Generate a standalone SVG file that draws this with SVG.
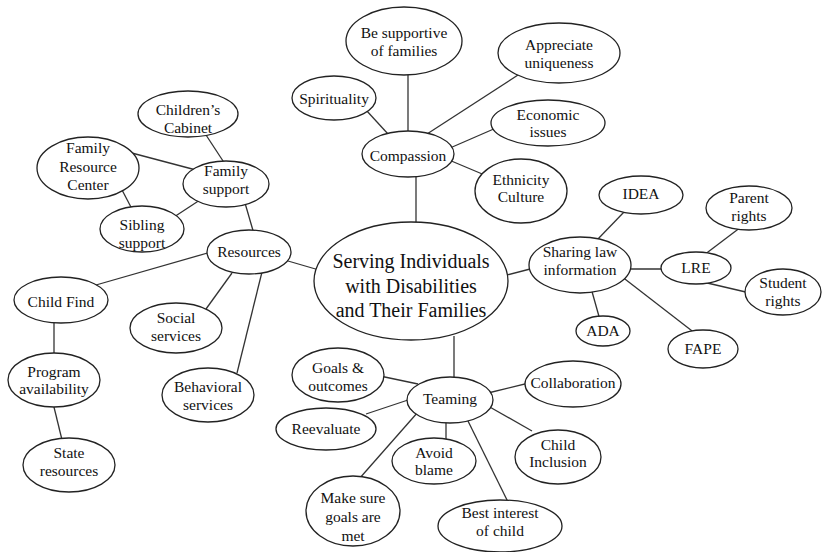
<svg xmlns="http://www.w3.org/2000/svg" width="822" height="552" viewBox="0 0 822 552">
<style>
ellipse{fill:#fff;stroke:#222;stroke-width:1.3}
text{font-size:15.5px;fill:#111;text-anchor:middle}
.big{font-size:20px}
#connectors line{stroke:#333;stroke-width:1.3}
</style>
<rect width="822" height="552" fill="#fff"/>
<g id="connectors">
<line x1="206" y1="135" x2="225" y2="164"/>
<line x1="128" y1="152" x2="196" y2="170"/>
<line x1="121" y1="188" x2="133" y2="211"/>
<line x1="174" y1="217" x2="203" y2="198"/>
<line x1="245" y1="203" x2="254" y2="234"/>
<line x1="211" y1="252" x2="96" y2="285"/>
<line x1="54" y1="320" x2="54" y2="357"/>
<line x1="53" y1="403" x2="63" y2="444"/>
<line x1="232" y1="273" x2="206" y2="309"/>
<line x1="262" y1="272" x2="237" y2="373"/>
<line x1="288" y1="261" x2="319" y2="270"/>
<line x1="366" y1="110" x2="388" y2="134"/>
<line x1="408" y1="72" x2="408" y2="134"/>
<line x1="518" y1="75" x2="427" y2="134"/>
<line x1="496" y1="128" x2="450" y2="148"/>
<line x1="487" y1="176" x2="449" y2="160"/>
<line x1="416" y1="174" x2="416" y2="226"/>
<line x1="503" y1="276" x2="534" y2="268"/>
<line x1="596" y1="241" x2="625" y2="211"/>
<line x1="627" y1="269" x2="665" y2="269"/>
<line x1="704" y1="255" x2="741" y2="227"/>
<line x1="703" y1="282" x2="750" y2="293"/>
<line x1="591" y1="288" x2="600" y2="320"/>
<line x1="621" y1="276" x2="696" y2="334"/>
<line x1="454" y1="336" x2="454" y2="380"/>
<line x1="380" y1="376" x2="418" y2="384"/>
<line x1="366" y1="414" x2="411" y2="399"/>
<line x1="359" y1="479" x2="418" y2="412"/>
<line x1="446" y1="420" x2="446" y2="441"/>
<line x1="467" y1="419" x2="509" y2="504"/>
<line x1="488" y1="406" x2="532" y2="431"/>
<line x1="488" y1="393" x2="533" y2="382"/>
</g>
<g font-family="'Liberation Serif', 'DejaVu Serif', serif">
<g id="center"><ellipse cx="411" cy="281" rx="97" ry="59"/><text class="big"><tspan x="411" y="268">Serving Individuals</tspan><tspan x="411" y="293">with Disabilities</tspan><tspan x="411" y="317">and Their Families</tspan></text></g>
<g id="compassion"><ellipse cx="408" cy="154" rx="46" ry="23"/><text x="408" y="161">Compassion</text></g>
<g id="be-supportive"><ellipse cx="404" cy="41" rx="58" ry="34"/><text><tspan x="404" y="38">Be supportive</tspan><tspan x="404" y="56">of families</tspan></text></g>
<g id="appreciate"><ellipse cx="559" cy="53" rx="61" ry="30"/><text><tspan x="559" y="50">Appreciate</tspan><tspan x="559" y="68">uniqueness</tspan></text></g>
<g id="spirituality"><ellipse cx="334" cy="98" rx="42" ry="22"/><text x="334" y="104">Spirituality</text></g>
<g id="economic"><ellipse cx="548" cy="123" rx="57" ry="23"/><text><tspan x="548" y="120">Economic</tspan><tspan x="548" y="137">issues</tspan></text></g>
<g id="ethnicity"><ellipse cx="521" cy="191" rx="46" ry="32"/><text><tspan x="521" y="185">Ethnicity</tspan><tspan x="521" y="202">Culture</tspan></text></g>
<g id="sharing"><ellipse cx="580" cy="265" rx="51" ry="28"/><text><tspan x="580" y="257">Sharing law</tspan><tspan x="580" y="275">information</tspan></text></g>
<g id="idea"><ellipse cx="641" cy="195" rx="42" ry="19"/><text x="641" y="199">IDEA</text></g>
<g id="lre"><ellipse cx="696" cy="268" rx="35" ry="16"/><text x="696" y="273">LRE</text></g>
<g id="parent-rights"><ellipse cx="749" cy="208" rx="43" ry="22"/><text><tspan x="749" y="203">Parent</tspan><tspan x="749" y="221">rights</tspan></text></g>
<g id="student-rights"><ellipse cx="783" cy="292" rx="38" ry="23"/><text><tspan x="783" y="288">Student</tspan><tspan x="783" y="306">rights</tspan></text></g>
<g id="ada"><ellipse cx="603" cy="331" rx="27" ry="15"/><text x="603" y="336">ADA</text></g>
<g id="fape"><ellipse cx="703" cy="349" rx="35" ry="19"/><text x="703" y="354">FAPE</text></g>
<g id="teaming"><ellipse cx="450" cy="400" rx="43" ry="23"/><text x="450" y="404">Teaming</text></g>
<g id="goals"><ellipse cx="338" cy="375" rx="46" ry="27"/><text><tspan x="338" y="373">Goals &amp;</tspan><tspan x="338" y="391">outcomes</tspan></text></g>
<g id="collaboration"><ellipse cx="573" cy="384" rx="48" ry="23"/><text x="573" y="388">Collaboration</text></g>
<g id="reevaluate"><ellipse cx="326" cy="429" rx="50" ry="21"/><text x="326" y="434">Reevaluate</text></g>
<g id="avoid-blame"><ellipse cx="434" cy="461" rx="42" ry="23"/><text><tspan x="434" y="458">Avoid</tspan><tspan x="434" y="475">blame</tspan></text></g>
<g id="child-inclusion"><ellipse cx="558" cy="457" rx="43" ry="27"/><text><tspan x="558" y="450">Child</tspan><tspan x="558" y="467">Inclusion</tspan></text></g>
<g id="make-sure"><ellipse cx="353" cy="511" rx="47" ry="35"/><text><tspan x="353" y="503">Make sure</tspan><tspan x="353" y="522">goals are</tspan><tspan x="353" y="541">met</tspan></text></g>
<g id="best-interest"><ellipse cx="500" cy="526" rx="62" ry="26"/><text><tspan x="500" y="518">Best interest</tspan><tspan x="500" y="536">of child</tspan></text></g>
<g id="resources"><ellipse cx="249" cy="252" rx="42" ry="22"/><text x="249" y="257">Resources</text></g>
<g id="family-support"><ellipse cx="226" cy="184" rx="43" ry="23"/><text><tspan x="226" y="176">Family</tspan><tspan x="226" y="194">support</tspan></text></g>
<g id="childrens-cabinet"><ellipse cx="188" cy="114" rx="50" ry="23"/><text><tspan x="188" y="115">Children’s</tspan><tspan x="188" y="133">Cabinet</tspan></text></g>
<g id="frc"><ellipse cx="88" cy="168" rx="51" ry="31"/><text><tspan x="88" y="153">Family</tspan><tspan x="88" y="172">Resource</tspan><tspan x="88" y="190">Center</tspan></text></g>
<g id="sibling"><ellipse cx="142" cy="229" rx="42" ry="23"/><text><tspan x="142" y="230">Sibling</tspan><tspan x="142" y="248">support</tspan></text></g>
<g id="child-find"><ellipse cx="61" cy="300" rx="47" ry="23"/><text x="61" y="307">Child Find</text></g>
<g id="social"><ellipse cx="176" cy="328" rx="46" ry="25"/><text><tspan x="176" y="323">Social</tspan><tspan x="176" y="341">services</tspan></text></g>
<g id="program"><ellipse cx="54" cy="380" rx="46" ry="27"/><text><tspan x="54" y="377">Program</tspan><tspan x="54" y="394">availability</tspan></text></g>
<g id="behavioral"><ellipse cx="208" cy="395" rx="46" ry="27"/><text><tspan x="208" y="392">Behavioral</tspan><tspan x="208" y="410">services</tspan></text></g>
<g id="state"><ellipse cx="69" cy="465" rx="46" ry="27"/><text><tspan x="69" y="458">State</tspan><tspan x="69" y="476">resources</tspan></text></g>
</g>
</svg>
